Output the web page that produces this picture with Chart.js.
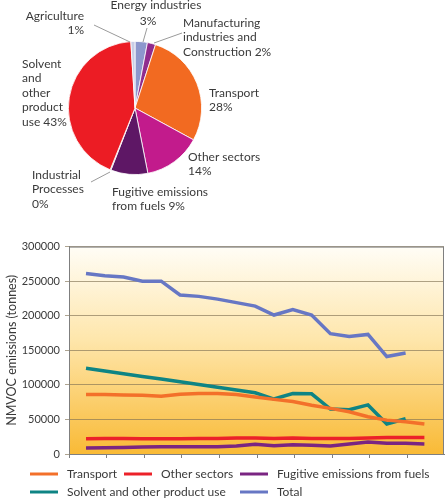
<!DOCTYPE html>
<html>
<head>
<meta charset="utf-8">
<script src="https://cdn.jsdelivr.net/npm/chart.js@4/dist/chart.umd.min.js"></script>
<style>
  html, body { margin: 0; padding: 0; background: #fff; }
  #wrap { position: relative; width: 445px; height: 500px; overflow: hidden; }
  canvas { position: absolute; left: 0; display: block; }
  #pie { top: 0; }
  #line { top: 235px; }
</style>
</head>
<body>
<div id="wrap">
  <canvas id="pie" width="445" height="235"></canvas>
  <canvas id="line" width="445" height="265"></canvas>
</div>
<script>
// Pie: share of NMVOC emissions by sector (%)
const pieLabels = ["Energy industries", "Manufacturing industries and Construction", "Transport",
  "Other sectors", "Fugitive emissions from fuels", "Industrial Processes",
  "Solvent and other product use", "Agriculture"];
const pieValues = [3, 2, 28, 14, 9, 0.2, 43, 1];
const pieColors = ["#8d97cd", "#902c8e", "#f26a21", "#c21b8c", "#5e1765", "#8a8a8a", "#ec1c24", "#c9cde6"];

// Line: NMVOC emissions (tonnes)
const years = [1990, 1991, 1992, 1993, 1994, 1995, 1996, 1997, 1998, 1999,
  2000, 2001, 2002, 2003, 2004, 2005, 2006, 2007, 2008];
const transport = [86000, 86000, 85500, 85000, 83500, 86500, 87500, 87500, 86000, 82500,
  79000, 76000, 70500, 66000, 61000, 54000, 49000, 46500, 43500];
const otherSectors = [22000, 22500, 22500, 22000, 22000, 22000, 22500, 22500, 23000, 23000,
  22500, 23000, 22500, 22500, 22500, 23000, 24000, 24000, 24000];
const fugitive = [8500, 9000, 9500, 10000, 10500, 10500, 10500, 10500, 11500, 14000,
  12000, 13500, 12500, 11500, 14500, 17500, 15500, 15500, 14500];
const solvent = [124000, 120000, 116000, 112000, 108500, 104500, 100500, 96500, 92500, 88500,
  79500, 87500, 87000, 65000, 64000, 71000, 43500, 51000];
const total = [261000, 258000, 256000, 250000, 250000, 230000, 228000, 224000, 219000, 214000,
  201000, 209000, 201000, 174000, 170000, 173000, 141000, 146000];
const yTicks = [0, 50000, 100000, 150000, 200000, 250000, 300000];

const FONT = "Lato, 'Open Sans', sans-serif";
const TXT = "#3a3a3a";

// ---------- pie labels ----------
const pieText = [
  { lines: ["Agriculture", "1%"], x: 84, y: 16, align: "right" },
  { lines: ["Energy industries"], x: 156, y: 5, align: "center" },
  { lines: ["3%"], x: 148, y: 21, align: "center" },
  { lines: ["Manufacturing", "industries and", "Construction 2%"], x: 183, y: 23, align: "left" },
  { lines: ["Solvent", "and", "other", "product", "use 43%"], x: 22, y: 64, align: "left" },
  { lines: ["Transport", "28%"], x: 209, y: 93, align: "left" },
  { lines: ["Other sectors", "14%"], x: 188, y: 157, align: "left" },
  { lines: ["Fugitive emissions", "from fuels 9%"], x: 112, y: 192, align: "left" },
  { lines: ["Industrial", "Processes", "0%"], x: 32, y: 175, align: "left" }
];
const leaders = [[94, 25, 130, 42], [147, 28, 143, 42], [182, 33, 154, 43], [91, 182, 110, 172]];

const pieLabelPlugin = {
  id: "pieLabels",
  afterDraw(chart) {
    const ctx = chart.ctx;
    ctx.save();
    ctx.strokeStyle = "#9a9a9a";
    ctx.lineWidth = 1;
    leaders.forEach(l => {
      ctx.beginPath();
      ctx.moveTo(l[0], l[1]);
      ctx.lineTo(l[2], l[3]);
      ctx.stroke();
    });
    ctx.fillStyle = TXT;
    ctx.font = "12px " + FONT;
    ctx.textBaseline = "middle";
    pieText.forEach(t => {
      ctx.textAlign = t.align;
      t.lines.forEach((s, i) => ctx.fillText(s, t.x, t.y + i * 14.5));
    });
    ctx.restore();
  }
};

new Chart(document.getElementById("pie"), {
  type: "pie",
  data: {
    labels: pieLabels,
    datasets: [{
      data: pieValues,
      backgroundColor: pieColors,
      borderColor: "#ffffff",
      borderWidth: 0.8,
      hoverOffset: 0
    }]
  },
  options: {
    responsive: false,
    animation: false,
    events: [],
    layout: { padding: { left: 68, right: 243, top: 41, bottom: 60 } },
    plugins: { legend: { display: false }, tooltip: { enabled: false } }
  },
  plugins: [pieLabelPlugin]
});

// ---------- line chart ----------
const series = [
  { label: "Transport", data: transport, color: "#f3702a" },
  { label: "Other sectors", data: otherSectors, color: "#ec2129" },
  { label: "Fugitive emissions from fuels", data: fugitive, color: "#7a2582" },
  { label: "Solvent and other product use", data: solvent, color: "#0e8484" },
  { label: "Total", data: total, color: "#6777c4" }
];
const legendSpots = [[30, 0], [124, 0], [240, 0], [30, 1], [240, 1]];

const xMin = years[0] - 0.904;
const xMax = xMin + 375 / 18.8;
const xTicks = [];
for (let k = 0; k <= 10; k++) xTicks.push(xMin + 2 * k);

const plotBg = {
  id: "plotBg",
  beforeDraw(chart) {
    const { ctx, chartArea: a } = chart;
    const g = ctx.createLinearGradient(0, a.top, 0, a.bottom);
    g.addColorStop(0, "#fffdf6");
    g.addColorStop(0.45, "#fee6ab");
    g.addColorStop(1, "#f9ba36");
    ctx.save();
    ctx.fillStyle = g;
    ctx.fillRect(a.left, a.top, a.right - a.left, a.bottom - a.top);
    ctx.restore();
  },
  afterDraw(chart) {
    const { ctx, chartArea: a } = chart;
    ctx.save();
    ctx.strokeStyle = "#7f7f7f";
    ctx.lineWidth = 1;
    ctx.strokeRect(a.left + 0.5, a.top + 0.5, a.right - a.left - 1, a.bottom - a.top);
    // legend
    ctx.font = "12px " + FONT;
    ctx.textBaseline = "middle";
    ctx.textAlign = "left";
    chart.data.datasets.forEach((ds, i) => {
      const [x, row] = legendSpots[i];
      const y = 239 + row * 18;
      ctx.strokeStyle = ds.borderColor;
      ctx.lineWidth = 3;
      ctx.beginPath();
      ctx.moveTo(x, y);
      ctx.lineTo(x + 28, y);
      ctx.stroke();
      ctx.fillStyle = TXT;
      ctx.fillText(ds.label, x + 37, y);
    });
    ctx.restore();
  }
};

new Chart(document.getElementById("line"), {
  type: "line",
  data: {
    datasets: series.map(s => ({
      label: s.label,
      data: s.data.map((v, i) => ({ x: years[i], y: v })),
      borderColor: s.color,
      backgroundColor: s.color,
      borderWidth: 3.5,
      pointRadius: 0,
      tension: 0,
      fill: false
    }))
  },
  options: {
    responsive: false,
    animation: false,
    events: [],
    layout: { padding: { left: 0, right: 1, top: 8, bottom: 0 } },
    plugins: { legend: { display: false }, tooltip: { enabled: false } },
    scales: {
      x: {
        type: "linear",
        min: xMin,
        max: xMax,
        afterBuildTicks: s => { s.ticks = xTicks.map(v => ({ value: v })); },
        afterFit: s => { s.height = 46; },
        ticks: { display: false },
        grid: { drawOnChartArea: false, drawTicks: true, tickLength: 4, color: "#7f7f7f" },
        border: { display: true, color: "#7f7f7f" }
      },
      y: {
        min: 0,
        max: 300000,
        afterBuildTicks: s => { s.ticks = yTicks.map(v => ({ value: v })); },
        afterFit: s => { s.width = 69; },
        ticks: {
          color: TXT,
          font: { family: FONT, size: 11 },
          padding: 5,
          callback: v => String(v)
        },
        grid: { color: "rgba(130,115,85,0.65)", tickLength: 4 },
        border: { display: true, color: "#7f7f7f" },
        title: {
          display: true,
          text: "NMVOC emissions (tonnes)",
          color: TXT,
          font: { family: FONT, size: 12.5 },
          padding: { top: 4, bottom: 0 }
        }
      }
    }
  },
  plugins: [plotBg]
});
</script>
</body>
</html>
